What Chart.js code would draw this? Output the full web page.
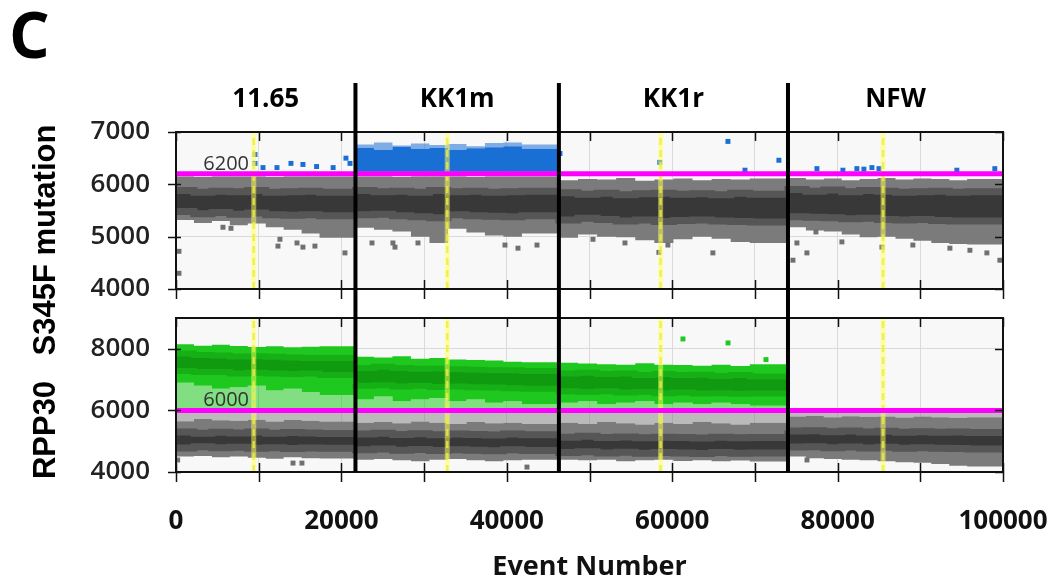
<!DOCTYPE html>
<html>
<head>
<meta charset="utf-8">
<title>ddPCR S345F / RPP30</title>
<script src="https://cdn.jsdelivr.net/npm/chart.js@4.4.1/dist/chart.umd.min.js"></script>
<style>
	html, body { margin: 0; padding: 0; background: #fff; overflow: hidden; }
	#wrap { position: relative; width: 1056px; height: 586px; }
	#wrap canvas { position: absolute; left: 0; top: 0; }
</style>
</head>
<body>
<div id="wrap">
	<canvas id="mutChart" width="1056" height="586"></canvas>
	<canvas id="refChart" width="1056" height="586"></canvas>
</div>
<script>
var wells = ['11.65', 'KK1m', 'KK1r', 'NFW'];
var wellBounds = [0, 21700, 46300, 74000, 100000];
var wellMarks = [9400, 32800, 58600, 85500];
var mutThreshold = 6200;
var refThreshold = 6000;

// S345F mutation channel: negative droplet cloud, edges per well
var mutGrayHi = [
	[6150, 6150, 6140, 6150, 6150, 6150, 6140, 6150, 6150, 6150],
	[6150, 6150, 6150, 6140, 6150, 6150, 6150, 6140, 6150, 6150, 6150],
	[6110, 6080, 6100, 6090, 6120, 6070, 6090, 6110, 6080, 6100, 6090, 6110],
	[6100, 6120, 6090, 6110, 6080, 6100, 6120, 6090, 6110, 6100, 6080, 6100]
];
var mutGrayLo = [
	[5300, 5320, 5260, 5300, 5220, 5250, 5180, 5130, 5060, 4980],
	[5220, 5170, 5130, 5100, 5000, 4880, 5150, 5080, 5020, 5000, 5060],
	[5020, 4980, 5040, 5000, 4990, 4930, 4880, 4950, 5000, 4960, 4900, 4880],
	[5200, 5180, 5120, 5100, 5040, 4990, 5000, 4960, 4920, 4880, 4860, 4850]
];
var mutCoreHi = [
	[5860, 5880, 5850, 5870, 5860, 5880, 5850, 5860, 5870, 5850],
	[5870, 5880, 5860, 5870, 5850, 5880, 5860, 5870, 5850, 5860, 5870],
	[5820, 5840, 5810, 5830, 5800, 5820, 5830, 5810, 5820, 5800, 5830, 5810],
	[5880, 5900, 5870, 5890, 5860, 5880, 5870, 5850, 5860, 5870, 5850, 5860]
];
var mutCoreLo = [
	[5460, 5480, 5440, 5460, 5430, 5450, 5420, 5410, 5420, 5400],
	[5440, 5420, 5430, 5400, 5380, 5360, 5420, 5400, 5390, 5380, 5400],
	[5340, 5320, 5350, 5330, 5300, 5320, 5290, 5310, 5320, 5300, 5290, 5280],
	[5400, 5380, 5370, 5360, 5340, 5350, 5330, 5320, 5330, 5310, 5300, 5300]
];
// positive (blue) cluster, only KK1m
var mutBlueLo = [null, 6240, null, null];
var mutBlueHi = [null, [6640, 6700, 6660, 6720, 6680, 6700, 6660, 6690, 6710, 6730, 6680], null, null];
var mutBlueTop = [null, [6700, 6760, 6800, 6740, 6780, 6750, 6770, 6730, 6790, 6800, 6760], null, null];

var mutGrayOut = [
	[360, 4720], [360, 4300], [5680, 5180], [6650, 5160], [12330, 4820], [12570, 4950], [14630, 4880],
	[15350, 4800], [16800, 4820], [20430, 4690], [23700, 4880], [26230, 4880], [26480, 4800], [29260, 4880],
	[39780, 4840], [41350, 4780], [43650, 4840], [50420, 4950], [54290, 4880], [58390, 4700], [59480, 4840],
	[64920, 4690], [74600, 4550], [75080, 4880], [76290, 4690], [77380, 5090], [80520, 4900], [85360, 4800],
	[89100, 4840], [93580, 4780], [96000, 4740], [98050, 4690], [99620, 4550]
];
var mutBlueOut = [
	[9550, 6570], [9550, 6400], [10520, 6320], [12210, 6320], [13900, 6400], [15350, 6380], [17000, 6340],
	[19000, 6320], [20550, 6500], [21040, 6400], [46430, 6590], [58500, 6420], [66740, 6820], [68800, 6270],
	[72900, 6460], [77500, 6300], [80640, 6270], [82330, 6300], [83180, 6290], [84150, 6320], [85000, 6300],
	[94420, 6270], [99010, 6300]
];

// RPP30 reference channel
var refGraySparse = [5950, 5950, 5950, 5950];
var refGrayHi = [
	[5700, 5650, 5720, 5680, 5660, 5700, 5640, 5690, 5660, 5640],
	[5650, 5600, 5620, 5580, 5640, 5600, 5560, 5620, 5580, 5600, 5560],
	[5650, 5600, 5560, 5620, 5580, 5540, 5600, 5560, 5620, 5580, 5540, 5600],
	[5840, 5800, 5820, 5780, 5810, 5790, 5800, 5770, 5800, 5780, 5760, 5780]
];
var refGrayLo = [
	[4560, 4500, 4520, 4480, 4500, 4460, 4430, 4480, 4450, 4440],
	[4450, 4400, 4420, 4380, 4350, 4400, 4420, 4380, 4350, 4380, 4400],
	[4420, 4400, 4380, 4400, 4350, 4380, 4400, 4360, 4380, 4350, 4370, 4340],
	[4560, 4500, 4450, 4420, 4400, 4380, 4350, 4320, 4300, 4260, 4200, 4180]
];
var refCoreHi = [
	[5280, 5300, 5260, 5290, 5270, 5300, 5260, 5280, 5270, 5250],
	[5250, 5230, 5260, 5220, 5240, 5210, 5230, 5220, 5200, 5230, 5210],
	[5150, 5130, 5160, 5120, 5140, 5110, 5130, 5120, 5100, 5130, 5110, 5120],
	[5350, 5330, 5340, 5310, 5330, 5300, 5320, 5290, 5310, 5290, 5300, 5280]
];
var refCoreLo = [
	[4800, 4780, 4820, 4790, 4800, 4770, 4790, 4760, 4780, 4770],
	[4740, 4720, 4750, 4710, 4730, 4700, 4720, 4710, 4690, 4720, 4700],
	[4650, 4630, 4660, 4620, 4640, 4610, 4630, 4620, 4600, 4630, 4610, 4620],
	[4830, 4810, 4820, 4790, 4810, 4780, 4800, 4770, 4790, 4770, 4760, 4750]
];
var refGreenSparse = [6050, 6050, 6050, null];
var refGreenHi = [
	[8230, 8150, 8100, 8130, 8090, 8060, 8080, 8050, 8070, 8080],
	[7780, 7740, 7720, 7760, 7680, 7700, 7650, 7640, 7620, 7580, 7560],
	[7600, 7550, 7520, 7500, 7480, 7530, 7480, 7470, 7450, 7480, 7440, 7500],
	null
];
var refGreenLo = [
	[6950, 6900, 6800, 6700, 6750, 6800, 6650, 6700, 6600, 6500],
	[6400, 6350, 6450, 6300, 6350, 6400, 6300, 6350, 6250, 6300, 6200],
	[6300, 6250, 6300, 6200, 6250, 6300, 6200, 6250, 6200, 6250, 6200, 6150],
	null
];
var refGreenCoreHi = [
	[7800, 7850, 7800, 7780, 7750, 7760, 7740, 7720, 7700, 7700],
	[7400, 7380, 7420, 7380, 7350, 7360, 7340, 7320, 7300, 7300, 7280],
	[7250, 7200, 7220, 7180, 7200, 7150, 7180, 7150, 7160, 7120, 7150, 7100],
	null
];
var refGreenCoreLo = [
	[7300, 7280, 7250, 7250, 7200, 7220, 7200, 7180, 7200, 7150],
	[6850, 6800, 6820, 6780, 6800, 6760, 6780, 6750, 6740, 6720, 6700],
	[6650, 6620, 6600, 6620, 6580, 6600, 6560, 6580, 6550, 6560, 6540, 6550],
	null
];
var refGrayOut = [[200, 4390], [14150, 4290], [15230, 4290], [42440, 4160], [76300, 4390]];
var refGreenOut = [[61300, 8320], [66750, 8190], [71340, 7650]];

Chart.defaults.font.family = 'Open Sans';

function expand(v, n) {
	return Array.isArray(v) ? v : new Array(n).fill(v);
}

function edgeSet(pts, order, edge, fillColor) {
	return {
		data: pts,
		order: order,
		stepped: 'after',
		pointRadius: 0,
		borderWidth: edge ? edge.width : 0,
		borderColor: edge ? edge.color : 'rgba(0,0,0,0)',
		fill: fillColor ? '-1' : false,
		backgroundColor: fillColor || 'rgba(0,0,0,0)'
	};
}

// filled band between two stepped edges, one pair of datasets per well
function band(lo, hi, fillColor, order, edge) {
	var sets = [];
	for (var w = 0; w < wells.length; w++) {
		if (lo[w] == null || hi[w] == null) continue;
		var n = Array.isArray(hi[w]) ? hi[w].length : lo[w].length;
		var l = expand(lo[w], n), h = expand(hi[w], n);
		var x0 = wellBounds[w], step = (wellBounds[w + 1] - x0) / n;
		var a = [], b = [];
		for (var i = 0; i <= n; i++) {
			var k = Math.min(i, n - 1);
			a.push({x: x0 + i * step, y: l[k]});
			b.push({x: x0 + i * step, y: h[k]});
		}
		sets.push(edgeSet(a, order, edge, null));
		sets.push(edgeSet(b, order, edge, fillColor));
	}
	return sets;
}

function dots(list, color, order) {
	return {
		data: list.map(function(p) { return {x: p[0], y: p[1]}; }),
		showLine: false,
		pointStyle: 'rect',
		pointRadius: 3.5,
		pointBackgroundColor: color,
		pointBorderColor: color,
		pointBorderWidth: 0,
		order: order
	};
}

function hline(y, color, width, order) {
	return {
		data: [{x: wellBounds[0], y: y}, {x: wellBounds[4], y: y}],
		borderColor: color, borderWidth: width, pointRadius: 0, fill: false, order: order
	};
}

function markLines(yMin, yMax) {
	var sets = [];
	wellMarks.forEach(function(m) {
		var pts = [{x: m, y: yMin}, {x: m, y: yMax}];
		sets.push({data: pts, borderColor: 'rgba(255,255,90,0.5)', borderWidth: 5, pointRadius: 0, fill: false, order: 1});
		sets.push({data: pts, borderColor: 'rgba(215,215,40,0.8)', borderWidth: 2.5, borderDash: [7, 5], pointRadius: 0, fill: false, order: 1});
	});
	return sets;
}

var panelFrame = {
	id: 'panelFrame',
	beforeDraw: function(chart) {
		var a = chart.chartArea, ctx = chart.ctx;
		ctx.save();
		ctx.fillStyle = '#f8f8f8';
		ctx.fillRect(a.left, a.top, a.right - a.left, a.bottom - a.top);
		ctx.restore();
	},
	afterDatasetsDraw: function(chart, args, opts) {
		var a = chart.chartArea, ctx = chart.ctx, xs = chart.scales.x, ys = chart.scales.y;
		ctx.save();
		ctx.strokeStyle = '#111';
		ctx.lineWidth = 1.5;
		ctx.beginPath();
		xs.ticks.forEach(function(t) {
			var px = Math.round(xs.getPixelForValue(t.value)) + 0.5;
			ctx.moveTo(px, a.top); ctx.lineTo(px, a.top + 9);
			ctx.moveTo(px, a.bottom - 9); ctx.lineTo(px, a.bottom + 10);
		});
		ys.ticks.forEach(function(t) {
			var py = Math.round(ys.getPixelForValue(t.value)) + 0.5;
			ctx.moveTo(a.left - 8, py); ctx.lineTo(a.left + 5, py);
			ctx.moveTo(a.right - 8, py); ctx.lineTo(a.right, py);
		});
		ctx.stroke();
		ctx.lineWidth = 2;
		ctx.strokeRect(a.left, a.top, a.right - a.left, a.bottom - a.top);
		ctx.fillStyle = '#333';
		ctx.font = '20px "Open Sans"';
		ctx.textAlign = 'right';
		ctx.textBaseline = 'alphabetic';
		ctx.fillText(String(opts.threshold), a.left + 73, ys.getPixelForValue(opts.threshold) - 4);
		ctx.restore();
	}
};

var figureText = {
	id: 'figureText',
	afterDraw: function(chart) {
		var ctx = chart.ctx, xs = chart.scales.x;
		ctx.save();
		ctx.fillStyle = '#000';
		ctx.font = 'bold 64px "Open Sans"';
		ctx.textAlign = 'left';
		ctx.textBaseline = 'alphabetic';
		ctx.fillText('C', 9, 58);

		ctx.font = 'bold 26px "Open Sans"';
		ctx.textAlign = 'center';
		ctx.textBaseline = 'middle';
		wells.forEach(function(name, w) {
			ctx.fillText(name, xs.getPixelForValue((wellBounds[w] + wellBounds[w + 1]) / 2), 100);
		});

		ctx.font = 'bold 31px "Liberation Sans"';
		[['S345F mutation', 240], ['RPP30', 430]].forEach(function(t) {
			ctx.save();
			ctx.translate(46, t[1]);
			ctx.rotate(-Math.PI / 2);
			ctx.fillText(t[0], 0, 0);
			ctx.restore();
		});
		ctx.restore();
	}
};

var wellDividers = {
	id: 'wellDividers',
	afterDraw: function(chart) {
		var ctx = chart.ctx, xs = chart.scales.x;
		ctx.save();
		ctx.strokeStyle = '#000';
		ctx.lineWidth = 4;
		ctx.beginPath();
		for (var i = 1; i < wellBounds.length - 1; i++) {
			var px = xs.getPixelForValue(wellBounds[i]);
			ctx.moveTo(px, 83);
			ctx.lineTo(px, chart.chartArea.bottom);
		}
		ctx.stroke();
		ctx.restore();
	}
};

var tickFont = {family: 'Open Sans', size: 26, weight: '600'};
var grid = {color: '#dadada', drawTicks: false};

function panelOptions(yMin, yMax, threshold, showX, padding, yLabel) {
	return {
		responsive: false,
		animation: false,
		events: [],
		layout: {padding: padding},
		plugins: {legend: {display: false}, tooltip: {enabled: false}, panelFrame: {threshold: threshold}},
		scales: {
			x: {
				type: 'linear', min: wellBounds[0], max: wellBounds[4],
				grid: grid, border: {display: false},
				ticks: {
					display: showX, stepSize: 10000, autoSkip: false, maxRotation: 0, padding: 34,
					color: '#111', font: {family: 'Open Sans', size: 26, weight: 'bold'},
					callback: function(v) { return v % 20000 === 0 ? String(v) : ''; }
				},
				title: {
					display: showX, text: 'Event Number', color: '#111',
					font: {family: 'Open Sans', size: 27, weight: 'bold'}, padding: {top: 0, bottom: 2}
				},
				afterFit: function(s) {
					s.height = showX ? 114 : 0;
					s.paddingLeft = 0;
					s.paddingRight = 0;
				}
			},
			y: {
				type: 'linear', min: yMin, max: yMax,
				grid: grid, border: {display: false},
				ticks: {stepSize: 1000, padding: 26, color: '#222', font: tickFont, callback: yLabel},
				afterFit: function(s) { s.width = 176; }
			}
		}
	};
}

var edge = {width: 7, color: '#565656'};
var greenEdge = {width: 6, color: '#16b016'};

var mutSets = [].concat(
	[hline(mutThreshold, '#ff00ff', 5, 0)],
	markLines(4000, 7000),
	[dots(mutBlueOut, '#1a6fd5', 2), dots(mutGrayOut, '#707070', 2)],
	band(mutCoreLo, mutCoreHi, '#383838', 5, edge),
	band(mutBlueLo, mutBlueHi, '#1a6fd5', 6, null),
	band(mutBlueHi, mutBlueTop, 'rgba(26,111,213,0.55)', 7, null),
	band(mutGrayLo, mutGrayHi, '#7b7b7b', 6, null)
);

var refSets = [].concat(
	[hline(refThreshold, '#ff00ff', 5, 0)],
	markLines(4000, 9000),
	[dots(refGreenOut, '#1fc81f', 2), dots(refGrayOut, '#707070', 2)],
	band(refCoreLo, refCoreHi, '#383838', 5, edge),
	band(refGreenCoreLo, refGreenCoreHi, '#0f9a0f', 5, greenEdge),
	band(refGrayLo, refGrayHi, '#7b7b7b', 6, null),
	band(refGreenLo, refGreenHi, '#1fc81f', 6, null),
	band(refGrayHi, refGraySparse, 'rgba(123,123,123,0.5)', 7, null),
	band(refGreenSparse, refGreenLo, 'rgba(31,200,31,0.55)', 7, null)
);

new Chart(document.getElementById('mutChart'), {
	type: 'line',
	data: {datasets: mutSets},
	options: panelOptions(4000, 7000, mutThreshold, false, {top: 132, right: 53, bottom: 297, left: 0},
		function(v) { return String(v); }),
	plugins: [panelFrame, figureText]
});

new Chart(document.getElementById('refChart'), {
	type: 'line',
	data: {datasets: refSets},
	options: panelOptions(4000, 9000, refThreshold, true, {top: 318, right: 53, bottom: 0, left: 0},
		function(v) { return (v % 2000 === 0 && v < 9000) ? String(v) : ''; }),
	plugins: [panelFrame, wellDividers]
});
</script>
</body>
</html>
